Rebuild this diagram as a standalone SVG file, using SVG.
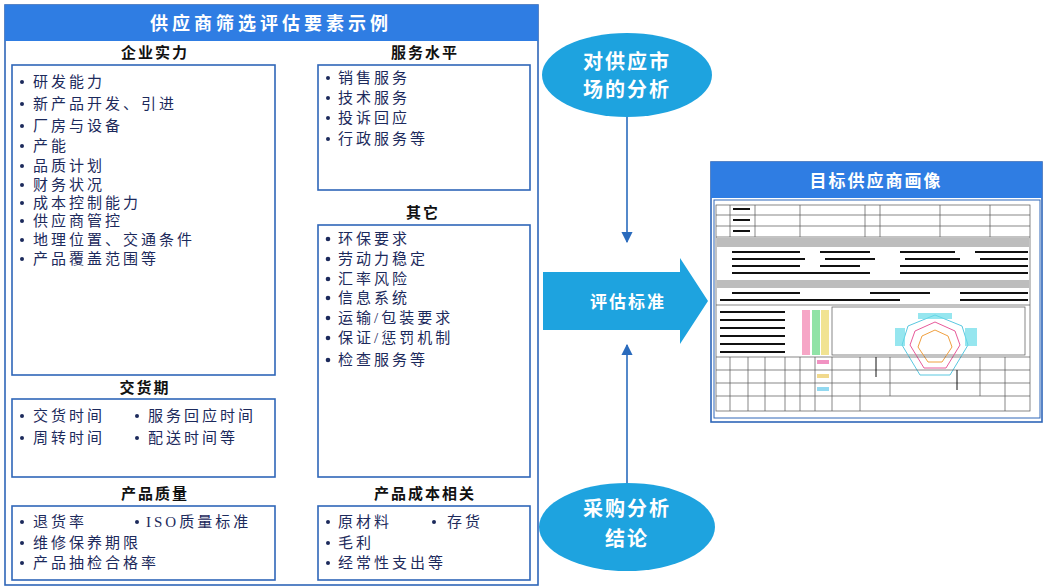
<svg xmlns="http://www.w3.org/2000/svg" width="1046" height="586" viewBox="0 0 1046 586">
<defs>
<style>
.hdr{fill:#2f7de3}
.box{fill:#fff;stroke:#2f66b8;stroke-width:1.6}
.ttl{font-family:"Liberation Serif","Noto Sans CJK SC",serif;font-size:15px;font-weight:bold;fill:#111;text-anchor:middle;letter-spacing:2px}
.it{font-family:"Liberation Serif","Noto Sans CJK SC",serif;font-size:15px;fill:#1c2a5c;letter-spacing:3px}
.bul{fill:#1c2a5c}
.wt{font-family:"Noto Sans CJK SC",sans-serif;font-weight:bold;fill:#fff;text-anchor:middle}
.ell{fill:#1ea3df}
.tl{stroke:#555;stroke-width:0.7;fill:none}
.bar{stroke:#111;stroke-width:2}
</style>
<marker id="ah" viewBox="0 0 10 10" refX="9" refY="5" markerWidth="7" markerHeight="7" orient="auto-start-reverse">
<path d="M0,0 L10,5 L0,10 z" fill="#2a6bbd"/>
</marker>
</defs>
<rect width="1046" height="586" fill="#fff"/>

<g id="panel-left">
<rect x="5" y="5" width="533" height="580" fill="#fff" stroke="#2f66b8" stroke-width="1.6"/>
<rect class="hdr" x="5" y="5" width="533" height="36"/>
<text class="wt" x="271" y="30" font-size="18" letter-spacing="4">供应商筛选评估要素示例</text>
</g>

<g id="n-qiye">
<text class="ttl" x="155" y="58">企业实力</text>
<rect class="box" x="12" y="65" width="263" height="310"/>
<g class="bul"><circle cx="22" cy="82" r="2"/><circle cx="22" cy="104" r="2"/><circle cx="22" cy="126" r="2"/><circle cx="22" cy="146" r="2"/><circle cx="22" cy="166" r="2"/><circle cx="22" cy="185" r="2"/><circle cx="22" cy="203" r="2"/><circle cx="22" cy="221" r="2"/><circle cx="22" cy="240" r="2"/><circle cx="22" cy="259" r="2"/></g>
<text class="it" x="33" y="87">研发能力</text>
<text class="it" x="33" y="109">新产品开发、引进</text>
<text class="it" x="33" y="131">厂房与设备</text>
<text class="it" x="33" y="151">产能</text>
<text class="it" x="33" y="171">品质计划</text>
<text class="it" x="33" y="190">财务状况</text>
<text class="it" x="33" y="208">成本控制能力</text>
<text class="it" x="33" y="226">供应商管控</text>
<text class="it" x="33" y="245">地理位置、交通条件</text>
<text class="it" x="33" y="264">产品覆盖范围等</text>
</g>

<g id="n-fuwu">
<text class="ttl" x="425" y="58">服务水平</text>
<rect class="box" x="318" y="65" width="212" height="125"/>
<g class="bul"><circle cx="328" cy="78" r="2"/><circle cx="328" cy="98" r="2"/><circle cx="328" cy="118" r="2"/><circle cx="328" cy="139" r="2"/></g>
<text class="it" x="338" y="83">销售服务</text>
<text class="it" x="338" y="103">技术服务</text>
<text class="it" x="338" y="123">投诉回应</text>
<text class="it" x="338" y="144">行政服务等</text>
</g>

<g id="n-qita">
<text class="ttl" x="423" y="218">其它</text>
<rect class="box" x="318" y="225" width="212" height="252"/>
<g class="bul"><circle cx="328" cy="239" r="2.3"/><circle cx="328" cy="259" r="2.3"/><circle cx="328" cy="279" r="2.3"/><circle cx="328" cy="298" r="2.3"/><circle cx="328" cy="318" r="2.3"/><circle cx="328" cy="338" r="2.3"/><circle cx="328" cy="360" r="2.3"/></g>
<text class="it" x="338" y="244">环保要求</text>
<text class="it" x="338" y="264">劳动力稳定</text>
<text class="it" x="338" y="284">汇率风险</text>
<text class="it" x="338" y="303">信息系统</text>
<text class="it" x="338" y="323">运输/包装要求</text>
<text class="it" x="338" y="343">保证/惩罚机制</text>
<text class="it" x="338" y="365">检查服务等</text>
</g>

<g id="n-jiaohuo">
<text class="ttl" x="145" y="393">交货期</text>
<rect class="box" x="12" y="399" width="263" height="78"/>
<g class="bul"><circle cx="22" cy="416" r="2"/><circle cx="22" cy="438" r="2"/><circle cx="137" cy="416" r="2"/><circle cx="137" cy="438" r="2"/></g>
<text class="it" x="33" y="421">交货时间</text>
<text class="it" x="33" y="443">周转时间</text>
<text class="it" x="148" y="421">服务回应时间</text>
<text class="it" x="148" y="443">配送时间等</text>
</g>

<g id="n-zhiliang">
<text class="ttl" x="155" y="499">产品质量</text>
<rect class="box" x="12" y="506" width="263" height="74"/>
<g class="bul"><circle cx="22" cy="522" r="2"/><circle cx="137" cy="522" r="2"/><circle cx="22" cy="543" r="2"/><circle cx="22" cy="563" r="2"/></g>
<text class="it" x="33" y="527">退货率</text>
<text class="it" x="146" y="527" letter-spacing="1.5">ISO质量标准</text>
<text class="it" x="33" y="548">维修保养期限</text>
<text class="it" x="33" y="568">产品抽检合格率</text>
</g>

<g id="n-chengben">
<text class="ttl" x="425" y="499">产品成本相关</text>
<rect class="box" x="318" y="506" width="212" height="74"/>
<g class="bul"><circle cx="328" cy="522" r="2"/><circle cx="434" cy="522" r="2"/><circle cx="328" cy="543" r="2"/><circle cx="328" cy="563" r="2"/></g>
<text class="it" x="338" y="527">原材料</text>
<text class="it" x="447" y="527">存货</text>
<text class="it" x="338" y="548">毛利</text>
<text class="it" x="338" y="568">经常性支出等</text>
</g>

<g id="connectors">
<line x1="627" y1="113" x2="627" y2="242" stroke="#2a6bbd" stroke-width="1.6" marker-end="url(#ah)"/>
<line x1="627" y1="484" x2="627" y2="345" stroke="#2a6bbd" stroke-width="1.6" marker-end="url(#ah)"/>
</g>

<g id="n-shichang">
<ellipse class="ell" cx="627" cy="75" rx="85" ry="42"/>
<text class="wt" x="627" y="69" font-size="20" letter-spacing="2">对供应市</text>
<text class="wt" x="627" y="97" font-size="20" letter-spacing="2">场的分析</text>
</g>

<g id="n-biaozhun">
<path d="M543,272 H680 V258 L708,301 L680,344 V330 H543 Z" fill="#1ea3df"/>
<text class="wt" x="628" y="308" font-size="17" letter-spacing="2">评估标准</text>
</g>

<g id="n-jielun">
<ellipse class="ell" cx="627" cy="527" rx="88" ry="44"/>
<text class="wt" x="627" y="516" font-size="20" letter-spacing="2">采购分析</text>
<text class="wt" x="627" y="546" font-size="20" letter-spacing="2">结论</text>
</g>

<g id="n-huaxiang">
<rect x="711" y="162" width="331" height="260" fill="#fff" stroke="#2f66b8" stroke-width="1.6"/>
<rect class="hdr" x="711" y="162" width="331" height="36"/>
<text class="wt" x="876" y="187" font-size="17" font-weight="normal" letter-spacing="2">目标供应商画像</text>
<rect x="714" y="200" width="326" height="218" fill="#fff" stroke="#2f66b8" stroke-width="1"/>
<g id="portrait">
<rect class="tl" x="716" y="205" width="314" height="206"/>
<line class="tl" x1="716" y1="215" x2="1030" y2="215"/>
<line class="tl" x1="716" y1="226" x2="1030" y2="226"/>
<line class="tl" x1="716" y1="237" x2="1030" y2="237"/>
<line class="tl" x1="730" y1="205" x2="730" y2="237"/>
<line class="tl" x1="755" y1="205" x2="755" y2="237"/>
<line class="tl" x1="800" y1="205" x2="800" y2="237"/>
<line class="tl" x1="865" y1="205" x2="865" y2="237"/>
<line class="tl" x1="880" y1="205" x2="880" y2="237"/>
<line class="tl" x1="940" y1="205" x2="940" y2="237"/>
<line class="tl" x1="990" y1="205" x2="990" y2="237"/>
<g class="bar"><line x1="733" y1="209" x2="750" y2="209"/><line x1="733" y1="220" x2="750" y2="220"/><line x1="733" y1="231" x2="750" y2="231"/></g>
<rect x="717" y="238" width="312" height="9" fill="#bdbdbd"/>
<g class="bar" stroke-width="1.5">
<line x1="732" y1="252" x2="800" y2="252"/><line x1="820" y1="252" x2="870" y2="252"/><line x1="900" y1="252" x2="955" y2="252"/><line x1="975" y1="252" x2="1028" y2="252"/>
<line x1="732" y1="259" x2="805" y2="259"/><line x1="825" y1="259" x2="875" y2="259"/><line x1="905" y1="259" x2="960" y2="259"/><line x1="980" y1="259" x2="1028" y2="259"/>
<line x1="732" y1="266" x2="800" y2="266"/><line x1="820" y1="266" x2="860" y2="266"/><line x1="900" y1="266" x2="1028" y2="266"/>
<line x1="732" y1="273" x2="870" y2="273"/><line x1="900" y1="273" x2="1028" y2="273"/>
</g>
<rect x="717" y="280" width="312" height="8" fill="#bdbdbd"/>
<g class="bar" stroke-width="1.5">
<line x1="732" y1="293" x2="800" y2="293"/><line x1="870" y1="293" x2="930" y2="293"/><line x1="960" y1="293" x2="1028" y2="293"/>
<line x1="720" y1="300" x2="900" y2="300"/><line x1="960" y1="300" x2="1028" y2="300"/>
</g>
<line class="tl" x1="716" y1="305" x2="1030" y2="305"/>
<g class="bar" stroke-width="1.3">
<line x1="720" y1="312" x2="785" y2="312"/><line x1="720" y1="320" x2="785" y2="320"/><line x1="720" y1="328" x2="785" y2="328"/><line x1="720" y1="336" x2="785" y2="336"/><line x1="720" y1="344" x2="785" y2="344"/><line x1="720" y1="352" x2="785" y2="352"/>
</g>
<g>
<rect x="802" y="310" width="8" height="45" fill="#f06aa0" opacity="0.6"/>
<rect x="812" y="310" width="8" height="45" fill="#46d06a" opacity="0.6"/>
<rect x="821" y="310" width="8" height="45" fill="#e8d04a" opacity="0.6"/>
</g>
<rect x="832" y="307" width="193" height="48" fill="#fff" stroke="#555" stroke-width="0.7"/>
<g fill="none" stroke-width="1">
<polygon points="935,315 962,326 968,345 950,375 920,375 902,345 908,326" stroke="#5ac8e0"/>
<polygon points="935,322 955,331 960,345 946,368 924,368 910,345 915,331" stroke="#e85a9a"/>
<polygon points="935,330 948,336 952,347 942,362 928,362 918,347 922,336" stroke="#f0a040"/>
</g>
<rect x="918" y="313" width="34" height="6" fill="#6adce8" opacity="0.7"/>
<rect x="895" y="328" width="10" height="18" fill="#6adce8" opacity="0.7"/>
<rect x="965" y="328" width="12" height="18" fill="#6adce8" opacity="0.7"/>
<line class="tl" x1="716" y1="357" x2="1030" y2="357"/>
<line class="tl" x1="716" y1="370" x2="1030" y2="370"/>
<line class="tl" x1="716" y1="383" x2="1030" y2="383"/>
<line class="tl" x1="716" y1="396" x2="1030" y2="396"/>
<line class="tl" x1="730" y1="357" x2="730" y2="411"/>
<line class="tl" x1="748" y1="357" x2="748" y2="411"/>
<line class="tl" x1="765" y1="357" x2="765" y2="411"/>
<line class="tl" x1="785" y1="357" x2="785" y2="411"/>
<line class="tl" x1="800" y1="357" x2="800" y2="411"/>
<line class="tl" x1="815" y1="357" x2="815" y2="411"/>
<line class="tl" x1="832" y1="357" x2="832" y2="411"/>
<line class="tl" x1="860" y1="357" x2="860" y2="411"/>
<line class="tl" x1="890" y1="357" x2="890" y2="396"/>
<line class="tl" x1="980" y1="357" x2="980" y2="396"/>
<line class="tl" x1="1005" y1="357" x2="1005" y2="411"/>
<line x1="876" y1="357" x2="876" y2="377" stroke="#111" stroke-width="1"/>
<line x1="957" y1="370" x2="957" y2="390" stroke="#111" stroke-width="1"/>
<rect x="817" y="360" width="12" height="4" fill="#e84a9a" opacity="0.6"/>
<rect x="817" y="374" width="12" height="4" fill="#e8c040" opacity="0.6"/>
<rect x="817" y="387" width="12" height="4" fill="#4ac0e8" opacity="0.6"/>
</g>
</g>
</svg>
